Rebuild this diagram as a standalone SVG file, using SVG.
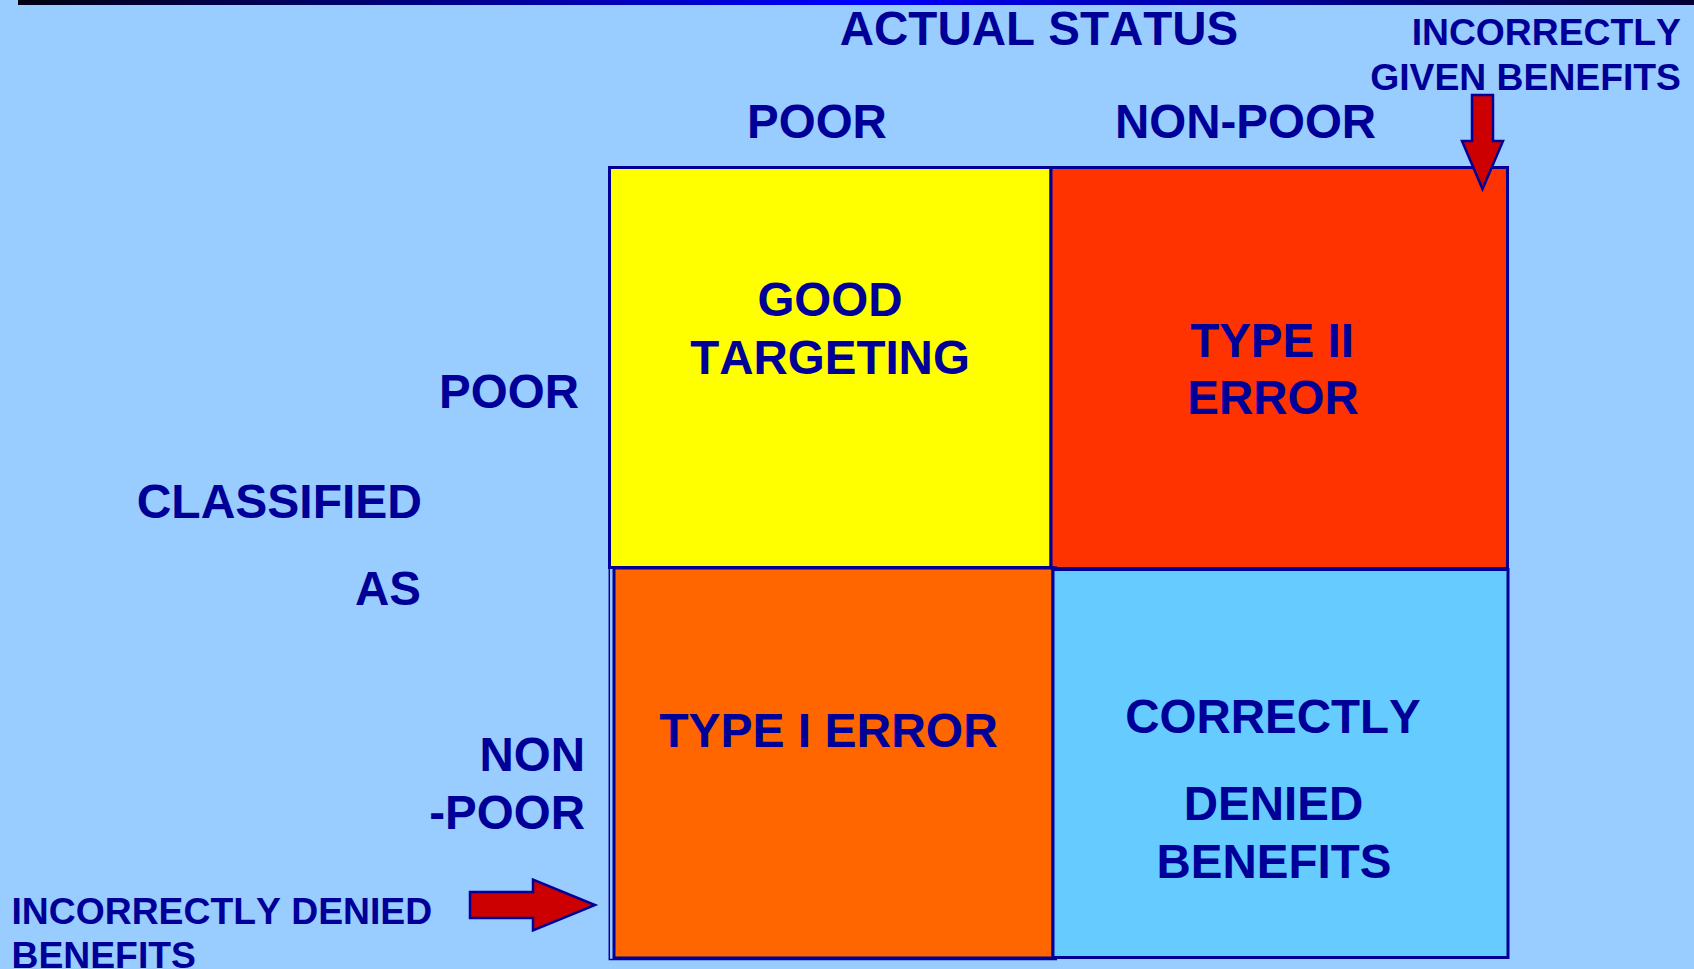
<svg xmlns="http://www.w3.org/2000/svg" width="1694" height="969" viewBox="0 0 1694 969">
  <defs>
    <linearGradient id="topBar" x1="0" y1="0" x2="1" y2="0">
      <stop offset="0" stop-color="#000010"/>
      <stop offset="0.5" stop-color="#0000ff"/>
      <stop offset="1" stop-color="#000033"/>
    </linearGradient>
    <style>
      text { font-family: "Liberation Sans", Arial, sans-serif; font-weight: bold; fill: #000099;
             font-kerning: none; font-feature-settings: "kern" 0; }
      .big { font-size: 47.5px; }
      .small { font-size: 37.3px; }
      .mid { text-anchor: middle; }
      .end { text-anchor: end; }
      .cell { stroke: #000099; stroke-width: 3; }
      .arrow { fill: #cc0000; stroke: #000099; stroke-width: 2.5; stroke-linejoin: miter; }
    </style>
  </defs>

  <!-- background and title rule -->
  <rect x="0" y="0" width="1694" height="969" fill="#99ccff"/>
  <rect x="18" y="0" width="1676" height="5" fill="url(#topBar)"/>

  <!-- axis labels -->
  <g id="axis-labels">
    <text class="big mid" x="1039" y="45">ACTUAL STATUS</text>
    <text class="big mid" x="817" y="138">POOR</text>
    <text class="big mid" x="1245.5" y="138">NON-POOR</text>
    <text class="big end" x="579" y="408">POOR</text>
    <text class="end" x="422" y="518" font-size="48">CLASSIFIED</text>
    <text class="big end" x="421" y="605">AS</text>
    <text class="big end" x="585" y="771">NON</text>
    <text class="big end" x="585" y="829">-POOR</text>
  </g>

  <!-- matrix cells -->
  <g id="cell-good-targeting">
    <rect class="cell" x="609.5" y="167.5" width="441.5" height="400" fill="#ffff00"/>
    <text class="big mid" x="830" y="316">GOOD</text>
    <text class="big mid" x="830" y="374">TARGETING</text>
  </g>

  <g id="cell-type-ii">
    <rect class="cell" x="1051" y="167.5" width="456.5" height="401" fill="#ff3300"/>
    <text class="big mid" x="1272" y="357">TYPE II</text>
    <text class="big mid" x="1273" y="414">ERROR</text>
  </g>

  <g id="cell-type-i">
    <rect x="609.3" y="567" width="447" height="392.5" fill="none" stroke="#000099" stroke-width="1.5"/>
    <rect class="cell" x="614" y="568" width="439" height="390" fill="#ff6600"/>
    <text class="mid" x="828.5" y="747" font-size="48">TYPE I ERROR</text>
  </g>

  <g id="cell-correctly-denied">
    <rect class="cell" x="1053" y="569.5" width="455" height="388" fill="#66ccff"/>
    <text class="big mid" x="1273" y="733">CORRECTLY</text>
    <text class="big mid" x="1273.5" y="820">DENIED</text>
    <text class="big mid" x="1274" y="878">BENEFITS</text>
  </g>

  <!-- callouts -->
  <g id="callout-given">
    <text class="small end" x="1681" y="45">INCORRECTLY</text>
    <text class="small end" x="1681" y="90">GIVEN BENEFITS</text>
  </g>

  <g id="callout-denied">
    <text class="small" x="11.5" y="924">INCORRECTLY DENIED</text>
    <text class="small" x="11.5" y="968">BENEFITS</text>
  </g>

  <!-- block arrows -->
  <g id="connectors">
    <polygon class="arrow" points="1472,95 1493,95 1493,141 1503,141 1482.5,189 1462,141 1472,141"/>
    <polygon class="arrow" points="470,892 533,892 533,879.5 595,905 533,930.5 533,918 470,918"/>
  </g>
</svg>
